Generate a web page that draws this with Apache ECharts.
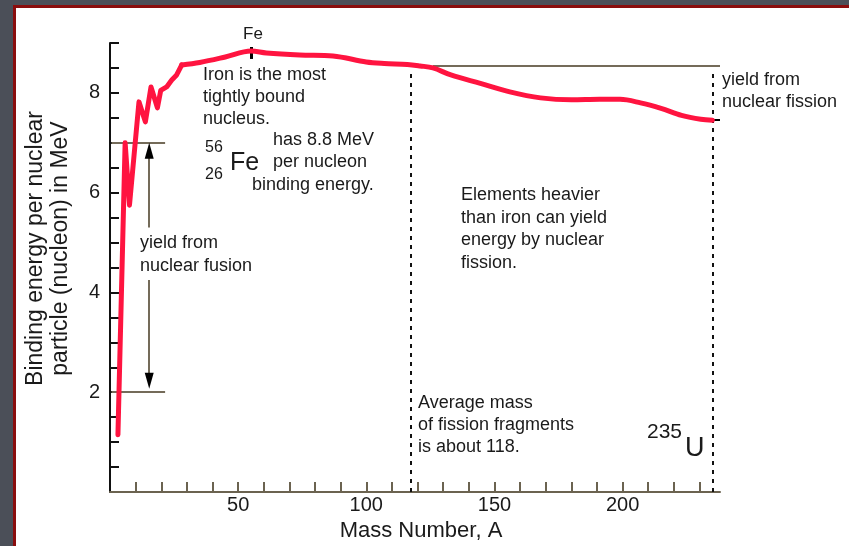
<!DOCTYPE html>
<html>
<head>
<meta charset="utf-8">
<script src="https://cdn.jsdelivr.net/npm/echarts@6/dist/echarts.min.js"></script>
<style>
  html, body { margin: 0; padding: 0; background: #4b4f58; }
  #bindingEnergy { width: 849px; height: 546px; }
</style>
</head>
<body>
<div id="bindingEnergy"></div>
<script>
// light nuclei, jagged part of the curve [mass number, MeV]
const lightNuclei = [
  [3.1, 1.15], [5.9, 7.0], [7.6, 5.75], [11.3, 7.82], [13.8, 7.42],
  [16.0, 8.12], [18.5, 7.70], [19.8, 8.05], [22.1, 8.12], [24.1, 8.26],
  [26.0, 8.36], [28.0, 8.56]
]
// smooth part from A=28 up to uranium
const heavyNuclei = [
  [28, 8.56], [35, 8.61], [45, 8.72], [55, 8.84], [61, 8.80], [74, 8.76],
  [87, 8.74], [100, 8.62], [107, 8.59], [116, 8.57], [121, 8.54], [126, 8.50],
  [133, 8.36], [144.5, 8.19], [156, 8.02], [168, 7.90], [180, 7.86], [191, 7.87],
  [199, 7.87], [207, 7.80], [215, 7.69], [223, 7.55], [230.5, 7.47], [235, 7.45]
]
const xTicks = [10, 20, 30, 40, 50, 60, 70, 80, 90, 100, 110, 120, 130, 140, 150, 160, 170, 180, 190, 200, 210, 220, 230]
const xLabels = [50, 100, 150, 200]
const yTicks = [0.5, 1, 1.5, 2, 2.5, 3, 3.5, 4, 4.5, 5, 5.5, 6, 6.5, 7, 7.5, 8, 8.5, 9]
const yLabels = [2, 4, 6, 8]

const feA = 55, feTop = [8.68, 8.92]
const fusionLow = 2.0, fusionHigh = 7.0, fusionArrowA = 15.3
const fissionMass = 117.5, uraniumA = 235
const fissionHigh = 8.54, fissionLow = 7.47

const font = "'Liberation Sans', Arial, sans-serif"
const ink = '#1a1a1a'
const guide = '#746b59'

function txt(x, y, text, size, lh, extra) {
  return Object.assign({
    type: 'text', x: x, y: y, silent: true, z: 50,
    style: { text: text, fill: ink, fontSize: size, fontFamily: font, lineHeight: lh || size, verticalAlign: 'top' }
  }, extra || {})
}

const chart = echarts.init(document.getElementById('bindingEnergy'))
chart.setOption({
  backgroundColor: '#4b4f58',
  animation: false,
  grid: { left: 110, right: 129, top: 43, bottom: 54, outerBoundsMode: 'none' },
  xAxis: {
    type: 'value', min: 0, max: 238, interval: 10,
    name: 'Mass Number, A', nameLocation: 'middle', nameGap: 24,
    nameTextStyle: { fontSize: 22, fontFamily: font, color: ink, padding: [0, 0, 0, 12] },
    splitLine: { show: false },
    axisLine: { lineStyle: { color: '#6b6350', width: 2 } },
    axisTick: { inside: true, length: 10, customValues: xTicks, lineStyle: { color: '#6b6350', width: 2 } },
    axisLabel: { customValues: xLabels, margin: 3, fontSize: 20, fontFamily: font, color: ink }
  },
  yAxis: {
    type: 'value', min: 0, max: 9, interval: 0.5,
    name: 'Binding energy per nuclear\nparticle (nucleon) in MeV', nameLocation: 'middle', nameGap: 37,
    nameTextStyle: { fontSize: 23, fontFamily: font, color: ink, lineHeight: 25, padding: [0, 0, 0, 38] },
    splitLine: { show: false },
    axisLine: { lineStyle: { color: '#111', width: 2 } },
    axisTick: { inside: true, length: 9, customValues: yTicks, lineStyle: { color: '#111', width: 2 } },
    axisLabel: { customValues: yLabels, margin: 10, fontSize: 20, fontFamily: font, color: ink }
  },
  graphic: [
    { type: 'rect', z: -10, silent: true, shape: { x: 14.5, y: 6.5, width: 900, height: 600 },
      style: { fill: '#ffffff', stroke: '#8a0d0d', lineWidth: 3 } },
    txt(253, 34, 'Fe', 17, 17, { style: { text: 'Fe', fill: ink, fontSize: 17, fontFamily: font, align: 'center', verticalAlign: 'middle' } }),
    txt(203, 64.5, 'Iron is the most\ntightly bound\nnucleus.', 18, 22),
    txt(205, 140, '56', 16, 16),
    txt(205, 167, '26', 16, 16),
    txt(230, 150.5, 'Fe', 25, 25),
    txt(273, 129, 'has 8.8 MeV\nper nucleon', 18, 22),
    txt(252, 174, 'binding energy.', 18, 22),
    txt(140, 231.5, 'yield from\nnuclear fusion', 18, 23),
    txt(461, 183.6, 'Elements heavier\nthan iron can yield\nenergy by nuclear\nfission.', 18, 22.7),
    txt(418, 392, 'Average mass\nof fission fragments\nis about 118.', 18, 22),
    txt(647, 421.5, '235', 21, 21),
    txt(685, 435.5, 'U', 27, 27),
    txt(722, 69, 'yield from\nnuclear fission', 18, 22)
  ],
  series: [
    {
      name: 'light', type: 'line', data: lightNuclei, showSymbol: false, silent: true, z: 5,
      lineStyle: { color: '#ff1440', width: 5, cap: 'round', join: 'round' },
      markLine: {
        silent: true, symbol: ['none', 'none'], label: { show: false }, animation: false,
        lineStyle: { color: guide, width: 2, type: 'solid' },
        data: [
          [{ coord: [0.6, fusionHigh] }, { coord: [21.5, fusionHigh] }],
          [{ coord: [0.6, fusionLow] }, { coord: [21.5, fusionLow] }],
          [{ coord: [fusionArrowA, 6.7] }, { coord: [fusionArrowA, 5.3] }],
          [{ coord: [fusionArrowA, 4.25] }, { coord: [fusionArrowA, 2.35] }],
          [{ coord: [126, fissionHigh] }, { coord: [238, fissionHigh] }],
          [{ coord: [uraniumA, fissionLow], lineStyle: { color: '#000', width: 2 } }, { coord: [238, fissionLow] }],
          [{ coord: [feA, feTop[0]], lineStyle: { color: '#000', width: 3 } }, { coord: [feA, feTop[1]] }],
          [{ coord: [fissionMass, 0], lineStyle: { color: '#111', width: 2, type: [4, 5] } }, { coord: [fissionMass, 8.46] }],
          [{ coord: [uraniumA, 0], lineStyle: { color: '#111', width: 2, type: [4, 5] } }, { coord: [uraniumA, 8.42] }]
        ]
      },
      markPoint: {
        silent: true, symbol: 'triangle', symbolSize: [9, 16], label: { show: false },
        itemStyle: { color: '#000' },
        data: [
          { coord: [fusionArrowA, 6.84] },
          { coord: [fusionArrowA, 2.23], symbolRotate: 180 }
        ]
      }
    },
    {
      name: 'heavy', type: 'line', data: heavyNuclei, showSymbol: false, silent: true, z: 5,
      smooth: 0.35,
      lineStyle: { color: '#ff1440', width: 5, cap: 'round', join: 'round' }
    }
  ]
})
</script>
</body>
</html>
